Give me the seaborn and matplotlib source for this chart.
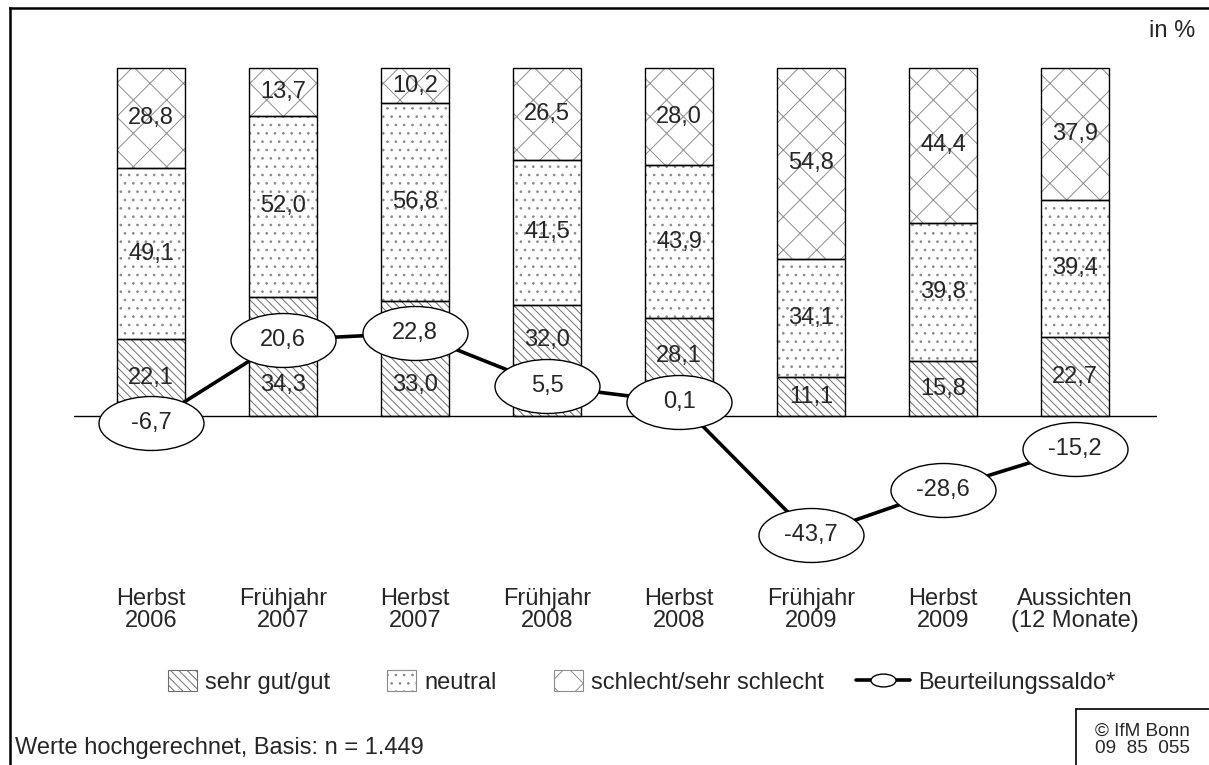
import numpy as np
import pandas as pd
import matplotlib
matplotlib.use("Agg")
import matplotlib.pyplot as plt
import seaborn as sns
from matplotlib.patches import Patch
from matplotlib.lines import Line2D
from matplotlib.path import Path
from matplotlib.transforms import Affine2D
from matplotlib.legend_handler import HandlerLine2D

# ---------------- data ----------------
categories = ["Herbst\n2006", "Frühjahr\n2007", "Herbst\n2007", "Frühjahr\n2008",
              "Herbst\n2008", "Frühjahr\n2009", "Herbst\n2009", "Aussichten\n(12 Monate)"]
gut = [22.1, 34.3, 33.0, 32.0, 28.1, 11.1, 15.8, 22.7]
neutral = [49.1, 52.0, 56.8, 41.5, 43.9, 34.1, 39.8, 39.4]
schlecht = [28.8, 13.7, 10.2, 26.5, 28.0, 54.8, 44.4, 37.9]
saldo = [-6.7, 20.6, 22.8, 5.5, 0.1, -43.7, -28.6, -15.2]
series_names = ["sehr gut/gut", "neutral", "schlecht/sehr schlecht"]
saldo_name = "Beurteilungssaldo*"
unit_text = "in %"
note_text = "Werte hochgerechnet, Basis: n = 1.449"
source_text = "© IfM Bonn\n09  85  055"

# ---------------- style ----------------
sns.set_style("white")
plt.rcParams["font.family"] = ["Liberation Sans", "DejaVu Sans"]
plt.rcParams["hatch.linewidth"] = 0.7
FS = 17

W, H = 1209, 765
fig = plt.figure(figsize=(W / 100, H / 100), dpi=100)
fig.patch.set_facecolor("white")

# axes geometry (pixels)
x0_px, step_px = 151.0, 132.0
xlim = (-0.58, 7.62)
ax_left = x0_px + xlim[0] * step_px
ax_right = x0_px + xlim[1] * step_px
ax_top, ax_bot = 20.0, 580.0
ax = fig.add_axes([ax_left / W, 1 - ax_bot / H, (ax_right - ax_left) / W, (ax_bot - ax_top) / H])

base_px, bar_scale = 416.0, 3.48
line_zero_px, line_scale = 402.5, 3.043
ylim_bar = (-(ax_bot - base_px) / bar_scale, (base_px - ax_top) / bar_scale)
ylim_line = (-(ax_bot - line_zero_px) / line_scale, (line_zero_px - ax_top) / line_scale)

pos = np.arange(len(categories))
gut_a, neu_a, sch_a = map(np.array, (gut, neutral, schlecht))
cum1 = gut_a
cum2 = gut_a + neu_a
cum3 = gut_a + neu_a + sch_a
bw = 0.508

hatches = ["\\\\\\\\", "..", "x"]
hatch_cols = ["#6e6e6e", "#8a8a8a", "#8c8c8c"]

# layered hatched bars (tallest first, shorter overlay on top)
for vals, hatch, hc in [(cum3, hatches[2], hatch_cols[2]),
                        (cum2, hatches[1], hatch_cols[1]),
                        (cum1, hatches[0], hatch_cols[0])]:
    n0 = len(ax.patches)
    sns.barplot(x=categories, y=vals, color="white", saturation=1, width=bw,
                ax=ax, linewidth=0, edgecolor=hc)
    for p in ax.patches[n0:]:
        p.set_facecolor("white")
        p.set_hatch(hatch)
        p.set_edgecolor(hc)
        p.set_linewidth(0)

# black outlines of each segment
for heights, bottoms in [(gut_a, np.zeros(len(pos))), (neu_a, cum1), (sch_a, cum2)]:
    ax.bar(pos, heights, bottom=bottoms, width=bw, fill=False,
           edgecolor="black", linewidth=1.0, zorder=3)

ax.axhline(0, color="black", lw=1.0, zorder=3)


def fmt(v):
    return f"{v:.1f}".replace(".", ",")


# label positions for the lower segment where ellipses would overlap
gut_label_pos = {1: 9.0, 2: 9.0, 3: 21.8, 4: 17.2}
for i in range(len(pos)):
    yg = gut_label_pos.get(i, gut_a[i] / 2)
    ax.text(pos[i], yg, fmt(gut_a[i]), ha="center", va="center", fontsize=FS, zorder=4)
    ax.text(pos[i], cum1[i] + neu_a[i] / 2, fmt(neu_a[i]), ha="center", va="center", fontsize=FS, zorder=4)
    ax.text(pos[i], cum2[i] + sch_a[i] / 2, fmt(sch_a[i]), ha="center", va="center", fontsize=FS, zorder=4)

ax.set_xlim(*xlim)
ax.set_ylim(*ylim_bar)
ax.set_xticks(pos)
ax.set_xticklabels(categories, fontsize=FS, linespacing=1.0)
ax.tick_params(axis="x", length=0, pad=6)
ax.set_yticks([])
ax.set_xlabel("")
ax.set_ylabel("")
for s in ax.spines.values():
    s.set_visible(False)
ax.patch.set_alpha(0)

# saldo line on twin axis
ell = Path.unit_circle().transformed(Affine2D().scale(1.0, 0.514))
ax2 = ax.twinx()
sns.lineplot(x=pos, y=saldo, ax=ax2, color="black", lw=2.6, marker=ell,
             markersize=75.6, markerfacecolor="white", markeredgecolor="black",
             markeredgewidth=1.0, legend=False, zorder=5)
for i, v in enumerate(saldo):
    ax2.text(pos[i], v, fmt(v), ha="center", va="center", fontsize=FS, zorder=6)
ax2.set_xlim(*xlim)
ax2.set_ylim(*ylim_line)
ax2.set_yticks([])
ax2.set_ylabel("")
ax2.set_xlabel("")
for s in ax2.spines.values():
    s.set_visible(False)
ax2.patch.set_alpha(0)


# legend
class WideLine(HandlerLine2D):
    def __init__(self, extra, **kw):
        super().__init__(**kw)
        self.extra = extra

    def create_artists(self, legend, orig_handle, xdescent, ydescent, width, height, fontsize, trans):
        e = self.extra * fontsize
        return super().create_artists(legend, orig_handle, xdescent + e, ydescent,
                                      width + e, height, fontsize, trans)


handles = []
for name, hatch, hc in zip(series_names, hatches, hatch_cols):
    handles.append(Patch(facecolor="white", edgecolor=hc, hatch=hatch, linewidth=0.8, label=name))
saldo_handle = Line2D([], [], color="black", lw=2.6, marker=ell, markersize=18,
                      markerfacecolor="white", markeredgecolor="black",
                      markeredgewidth=1.0, label=saldo_name)
handles.append(saldo_handle)
leg = fig.legend(handles=handles, loc="center left",
                 bbox_to_anchor=(168 / W, 1 - 682 / H), bbox_transform=fig.transFigure,
                 ncol=4, frameon=False, fontsize=FS, handlelength=1.23, handleheight=1.0,
                 handletextpad=0.34, columnspacing=2.42, borderpad=0, borderaxespad=0,
                 handler_map={saldo_handle: WideLine(1.06)})

# texts
fig.text(1195 / W, 1 - 31 / H, unit_text, ha="right", va="center", fontsize=FS)
fig.text(15 / W, 1 - 748 / H, note_text, ha="left", va="center", fontsize=FS)
fig.text(1142 / W, 1 - 740 / H, source_text, ha="center", va="center", fontsize=13.7,
         linespacing=1.05)

# frame lines
fig.add_artist(Line2D([9.5 / W, 1.0], [1 - 7.5 / H, 1 - 7.5 / H], transform=fig.transFigure,
                      color="black", lw=1.8, solid_capstyle="projecting"))
fig.add_artist(Line2D([9.5 / W, 9.5 / W], [1 - 7.5 / H, 0.0], transform=fig.transFigure,
                      color="black", lw=1.8, solid_capstyle="projecting"))
fig.add_artist(Line2D([1076 / W, 1.0], [1 - 709 / H, 1 - 709 / H], transform=fig.transFigure,
                      color="black", lw=1.2))
fig.add_artist(Line2D([1076 / W, 1076 / W], [1 - 709 / H, 0.0], transform=fig.transFigure,
                      color="black", lw=1.2))

fig.savefig("out.png", dpi=100, facecolor="white")
